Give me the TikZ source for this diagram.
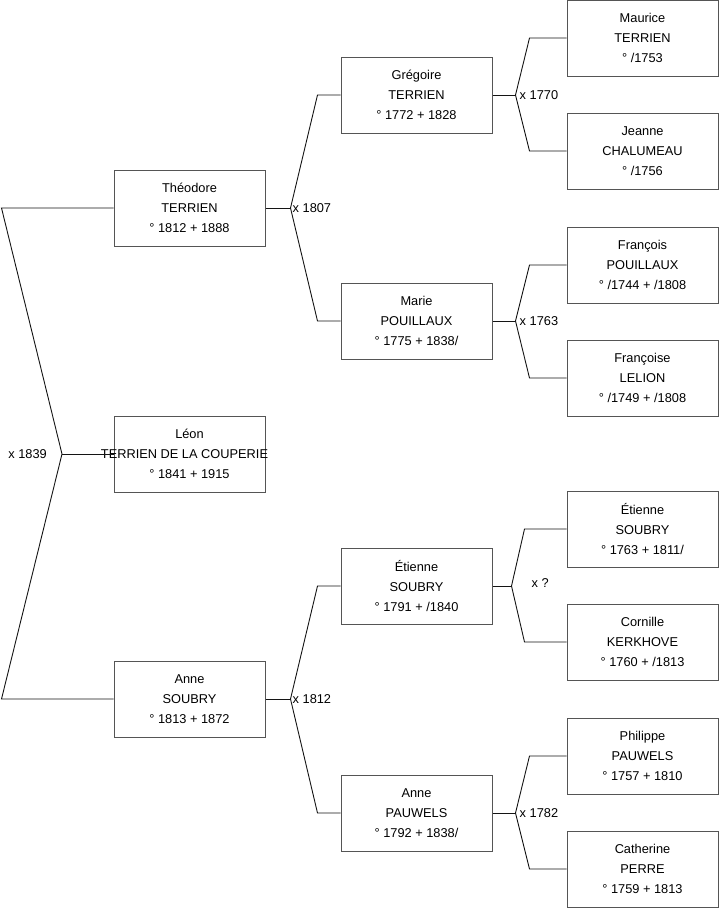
\documentclass[tikz,border=0pt]{standalone}
\usepackage{fontspec}
\setmainfont{Liberation Sans}
\usepackage{tikz}
\usetikzlibrary{positioning,calc}
\usepackage{xcolor}
\definecolor{boxcol}{RGB}{85,85,85}
\definecolor{linkcol}{RGB}{20,20,20}
\newcommand{\treefont}{\fontsize{12.8}{20}\selectfont}
\tikzset{
  person/.style={rectangle,draw=boxcol,fill=white,line width=1pt,
                 minimum width=151pt,minimum height=76pt,inner sep=0pt,
                 align=center},
  link/.style={draw=linkcol,line width=.9pt},
  union/.style={inner sep=1pt,anchor=west},
}

\begin{document}
\begin{tikzpicture}[x=1pt,y=-1pt,font=\treefont]
  \useasboundingbox (0,0) rectangle (719,908);
  % first generation
  \node[person] (theodore) at (189.5,208) {Théodore\\TERRIEN\\° 1812 + 1888};
  \node[person] (leon)     at (189.5,454) {Léon\\\makebox[120pt]{TERRIEN DE LA COUPERIE\kern10pt}\\° 1841 + 1915};
  \node[person] (anne)     at (189.5,699) {Anne\\SOUBRY\\° 1813 + 1872};
  % second generation
  \node[person] (gregoire) at (416.5,95)  {Grégoire\\TERRIEN\\° 1772 + 1828};
  \node[person] (marie)    at (416.5,321) {Marie\\POUILLAUX\\° 1775 + 1838/};
  \node[person] (etienne)  at (416.5,586) {Étienne\\SOUBRY\\° 1791 + /1840};
  \node[person] (annep)    at (416.5,813) {Anne\\PAUWELS\\° 1792 + 1838/};
  % third generation
  \node[person] (maurice)   at (642.5,38)  {Maurice\\TERRIEN\\° /1753};
  \node[person] (jeanne)    at (642.5,151) {Jeanne\\CHALUMEAU\\° /1756};
  \node[person] (francois)  at (642.5,265) {François\\POUILLAUX\\° /1744 + /1808};
  \node[person] (francoise) at (642.5,378) {Françoise\\LELION\\° /1749 + /1808};
  \node[person] (etiennes)  at (642.5,529) {Étienne\\SOUBRY\\° 1763 + 1811/};
  \node[person] (cornille)  at (642.5,642) {Cornille\\KERKHOVE\\° 1760 + /1813};
  \node[person] (philippe)  at (642.5,756) {Philippe\\PAUWELS\\° 1757 + 1810};
  \node[person] (catherine) at (642.5,869) {Catherine\\PERRE\\° 1759 + 1813};
  % the forks
  \coordinate (j0) at (62,454);
  \coordinate (j1) at ($(theodore.east)+(25,0)$);
  \coordinate (j2) at ($(anne.east)+(25,0)$);
  \coordinate (j3) at ($(gregoire.east)+(23,0)$);
  \coordinate (j4) at ($(marie.east)+(23,0)$);
  \coordinate (j5) at ($(etienne.east)+(19,0)$);
  \coordinate (j6) at ($(annep.east)+(23,0)$);
  \draw[link] (leon.west) -- (j0);
  \draw[link] (theodore.west) -- ([xshift=-112]theodore.west) -- (j0)
              -- ([xshift=-112]anne.west) -- (anne.west);
  \draw[link] (theodore.east) -- (j1);
  \draw[link] (gregoire.west) -- ([xshift=-23]gregoire.west) -- (j1)
              -- ([xshift=-23]marie.west) -- (marie.west);
  \draw[link] (anne.east) -- (j2);
  \draw[link] (etienne.west) -- ([xshift=-23]etienne.west) -- (j2)
              -- ([xshift=-23]annep.west) -- (annep.west);
  \draw[link] (gregoire.east) -- (j3);
  \draw[link] (maurice.west) -- ([xshift=-37]maurice.west) -- (j3)
              -- ([xshift=-37]jeanne.west) -- (jeanne.west);
  \draw[link] (marie.east) -- (j4);
  \draw[link] (francois.west) -- ([xshift=-37]francois.west) -- (j4)
              -- ([xshift=-37]francoise.west) -- (francoise.west);
  \draw[link] (etienne.east) -- (j5);
  \draw[link] (etiennes.west) -- ([xshift=-42]etiennes.west) -- (j5)
              -- ([xshift=-42]cornille.west) -- (cornille.west);
  \draw[link] (annep.east) -- (j6);
  \draw[link] (philippe.west) -- ([xshift=-37]philippe.west) -- (j6)
              -- ([xshift=-37]catherine.west) -- (catherine.west);
  % marriages
  \node[union,anchor=east,left=14pt of j0] (m0) {x 1839};
  \node[union,right=1pt of j1] (m1) {x 1807};
  \node[union,right=1pt of j2] (m2) {x 1812};
  \node[union,right=3pt of j3] (m3) {x 1770};
  \node[union,right=3pt of j4] (m4) {x 1763};
  \node[union,right=19pt of j5,yshift=3pt] (m5) {x ?};
  \node[union,right=3pt of j6] (m6) {x 1782};
\end{tikzpicture}
\end{document}
